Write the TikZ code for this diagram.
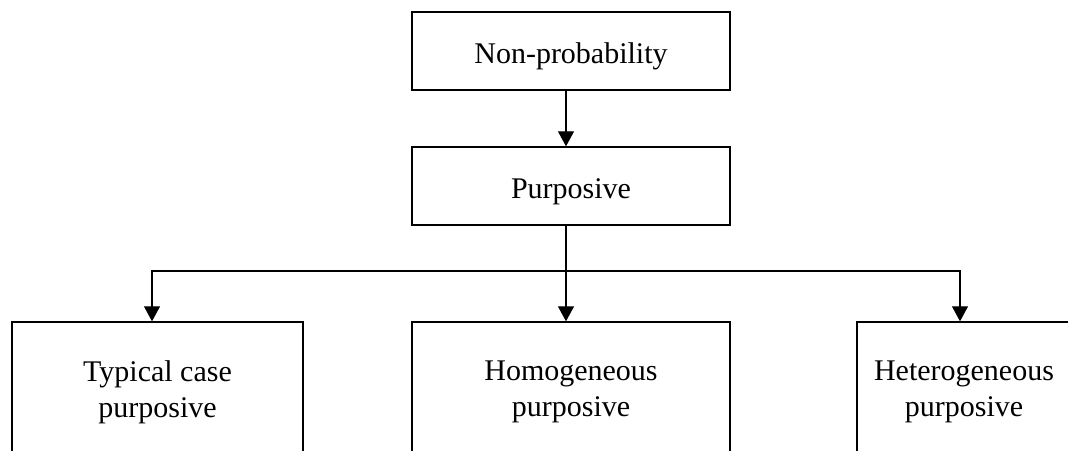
\documentclass[tikz,border=0pt]{standalone}
\usepackage{fontspec}
\setmainfont{Liberation Serif}
\usetikzlibrary{arrows.meta}
\begin{document}
\begin{tikzpicture}[x=1pt,y=-1pt,
  box/.style={draw,line width=1.4pt,rectangle,align=center,inner sep=0pt,
    font=\fontsize{30}{36}\selectfont},
  topbox/.style={box,minimum width=318pt,minimum height=78pt,text height=25pt,text depth=0pt},
  link/.style={line width=1.2pt},
  arr/.style={link,-{Triangle[width=16pt,length=15pt]}}]
\useasboundingbox (0,0) rectangle (1068,450);
\clip (0,0) rectangle (1068,450);
\node[topbox] (np) at (571,51) {Non-probability};
\node[topbox] (pu) at (571,186) {Purposive};
\node[box,minimum width=291pt,minimum height=140pt] (tc) at (157.5,392) {Typical case\\purposive};
\node[box,minimum width=318pt,minimum height=140pt] (ho) at (571,392) {Homogeneous\\purposive};
\node[box,minimum width=214pt,minimum height=140pt] (he) at (964,392) {Heterogeneous\\purposive};
\coordinate (j) at (566,271);
\draw[arr] ([xshift=-5pt]np.south) -- ([xshift=-5pt]pu.north);
\draw[link] ([xshift=-5pt]pu.south) -- (j);
\draw[arr] (j) -- ([xshift=-5pt]ho.north);
\draw[arr] (j) -| ([xshift=-5.5pt]tc.north);
\draw[arr] (j) -| ([xshift=-4pt]he.north);
\end{tikzpicture}
\end{document}
